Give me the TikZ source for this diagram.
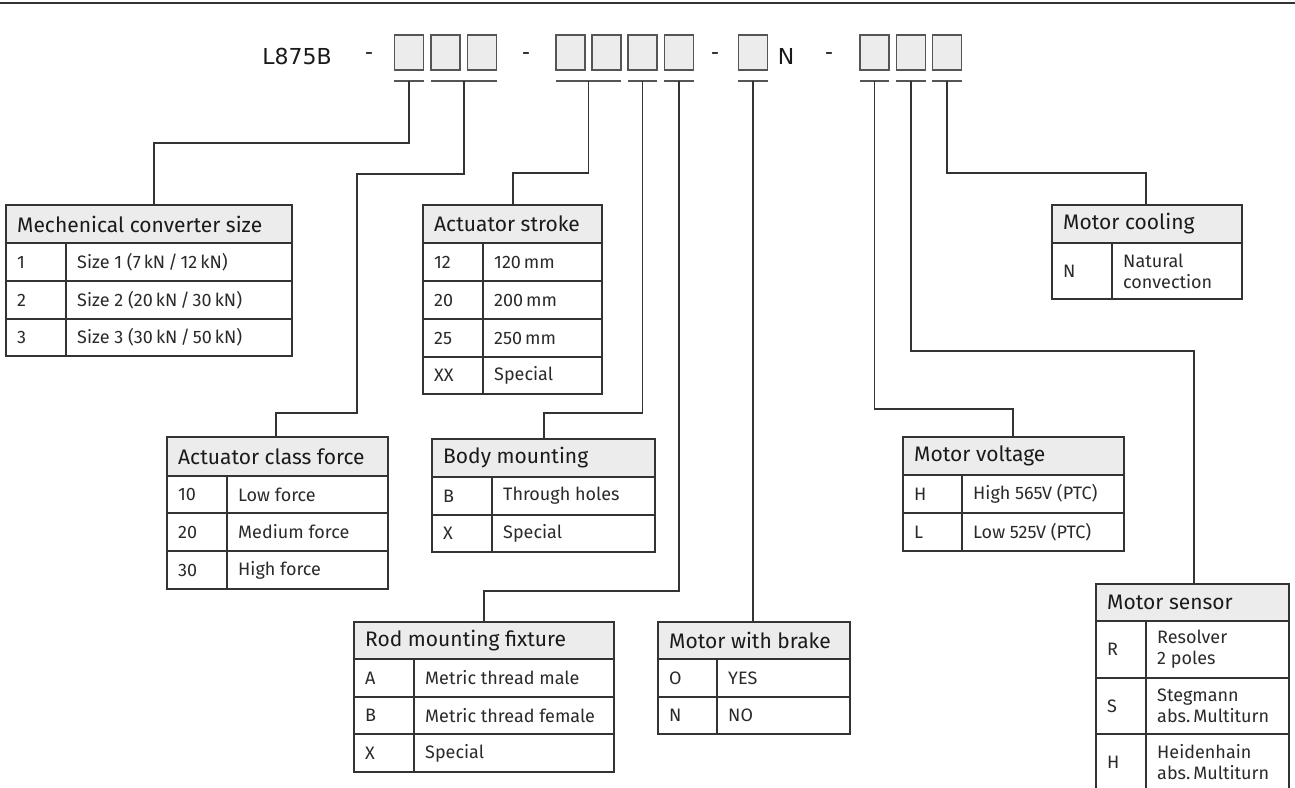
\documentclass[tikz,border=0pt]{standalone}
\usepackage{fontspec}
\setmainfont{Fira Sans}
\newfontfamily\codefont{DejaVu Sans}
\newfontfamily\lightfont{Fira Sans}
\definecolor{linec}{HTML}{333333}
\definecolor{fillc}{HTML}{ECECEC}
\definecolor{barc}{HTML}{555555}
\definecolor{textc}{HTML}{1A1A1A}
\definecolor{bodyc}{HTML}{2A2A2A}
\tikzset{
  conn/.style={draw=linec, line width=1.3pt},
  cellbox/.style={draw=linec, line width=1.3pt, anchor=north west, inner sep=0pt, outer sep=0pt},
  hdrbox/.style={cellbox, fill=fillc},
  hdrtxt/.style={anchor=west, inner sep=0pt, text=textc, font=\fontsize{21}{24}\selectfont},
  celltxt/.style={anchor=west, inner sep=0pt, text=bodyc, align=left, font=\lightfont\fontsize{18}{21}\selectfont},
  codetxt/.style={inner sep=0pt, text=textc, font=\codefont\fontsize{22}{24}\selectfont},
  codebox/.style={draw=barc, line width=1.2pt, fill=fillc, minimum width=29pt, minimum height=35pt, inner sep=0pt},
  barnode/.style={fill=barc, minimum height=2.5pt, inner sep=0pt, outer sep=0pt},
}
% #1 name, #2 left, #3 right, #4 top, #5 bottom, #6 text
\newcommand\tabhead[6]{%
  \node[hdrbox, minimum width={#3-#2}, minimum height={#5-#4}] (#1) at (#2,#4) {};
  \node[hdrtxt] (#1t) at ([xshift=11pt]#1.west) {#6};
}
% #1 name, #2 left, #3 split, #4 right, #5 top, #6 bottom, #7 key, #8 value
\newcommand\tabrow[8]{%
  \node[cellbox, minimum width={#3-#2}, minimum height={#6-#5}] (#1k) at (#2,#5) {};
  \node[cellbox, minimum width={#4-#3}, minimum height={#6-#5}] (#1v) at (#3,#5) {};
  \node[celltxt] (#1kt) at ([xshift=11pt]#1k.west) {#7};
  \node[celltxt] (#1vt) at ([xshift=11pt]#1v.west) {#8};
}
\begin{document}
\begin{tikzpicture}[x=1pt, y=-1pt]
\useasboundingbox (0,0) rectangle (1295,787);
\node[fill=linec, minimum width=1295pt, minimum height=2pt, inner sep=0pt, anchor=north west] (topline) at (0,1.5) {};

% code line
\node[codetxt] (code) at (297,56) {L875B};
\node[codetxt] (d1) at (369,56) {-};
\node[codetxt] (d2) at (526,56) {-};
\node[codetxt] (d3) at (715,56) {-};
\node[codetxt] (nn) at (786,56) {N};
\node[codetxt] (d4) at (829,56) {-};
\foreach \n/\x in {k1/409,k2/445.5,k3/482,k4/570.5,k5/606.5,k6/642.5,k7/679,k8/753,k9/874.5,k10/911,k11/947}
  \node[codebox] (\n) at (\x,52.5) {};

% bars
\node[barnode, minimum width=30pt] (b1) at (409,81) {};
\node[barnode, minimum width=66pt] (b2) at (464,81) {};
\node[barnode, minimum width=65pt] (b3) at (588.5,81) {};
\node[barnode, minimum width=29pt] (b4) at (642.5,81) {};
\node[barnode, minimum width=30pt] (b5) at (679,81) {};
\node[barnode, minimum width=30pt] (b6) at (753,81) {};
\node[barnode, minimum width=29pt] (b7) at (874.5,81) {};
\node[barnode, minimum width=30pt] (b8) at (911,81) {};
\node[barnode, minimum width=30pt] (b9) at (947,81) {};

% table 1
\tabhead{tm}{6}{292}{205}{243}{Mechenical converter size}
\tabrow{m1}{6}{66}{292}{243}{281}{1}{Size 1 (7\,kN\,/\,12\,kN)}
\tabrow{m2}{6}{66}{292}{281}{319}{2}{Size 2 (20\,kN\,/\,30\,kN)}
\tabrow{m3}{6}{66}{292}{319}{356}{3}{Size 3 (30\,kN\,/\,50\,kN)}

% table 2
\tabhead{tf}{167}{388}{437}{476}{Actuator class force}
\tabrow{f1}{167}{227}{388}{476}{513}{10}{Low force}
\tabrow{f2}{167}{227}{388}{513}{551}{20}{Medium force}
\tabrow{f3}{167}{227}{388}{551}{589}{30}{High force}

% table 3
\tabhead{ts}{423}{602}{205}{243}{Actuator stroke}
\tabrow{s1}{423}{483}{602}{243}{281}{12}{120\,mm}
\tabrow{s2}{423}{483}{602}{281}{319}{20}{200\,mm}
\tabrow{s3}{423}{483}{602}{319}{357}{25}{250\,mm}
\tabrow{s4}{423}{483}{602}{357}{394}{XX}{Special}

% table 4
\tabhead{tb}{432}{655}{439}{477}{Body mounting}
\tabrow{bm1}{432}{492}{655}{477}{515}{B}{Through holes}
\tabrow{bm2}{432}{492}{655}{515}{552}{X}{Special}

% table 5
\tabhead{tr}{354}{614}{622}{659}{Rod mounting fixture}
\tabrow{r1}{354}{414}{614}{659}{697}{A}{Metric thread male}
\tabrow{r2}{354}{414}{614}{697}{734}{B}{Metric thread female}
\tabrow{r3}{354}{414}{614}{734}{772}{X}{Special}

% table 6
\tabhead{tw}{658}{850}{622}{659}{Motor with brake}
\tabrow{w1}{658}{717}{850}{659}{697}{O}{YES}
\tabrow{w2}{658}{717}{850}{697}{734}{N}{NO}

% table 7
\tabhead{tv}{903}{1124}{437}{475}{Motor voltage}
\tabrow{v1}{903}{962}{1124}{475}{513}{H}{High 565V (PTC)}
\tabrow{v2}{903}{962}{1124}{513}{551}{L}{Low 525V (PTC)}

% table 8
\tabhead{tc}{1052}{1242}{205}{243}{Motor cooling}
\tabrow{c1}{1052}{1112}{1242}{243}{299}{N}{Natural\\convection}

% table 9
\tabhead{tn}{1096}{1289}{584}{621}{Motor sensor}
\tabrow{n1}{1096}{1146}{1289}{621}{678}{R}{Resolver\\2 poles}
\tabrow{n2}{1096}{1146}{1289}{678}{734}{S}{Stegmann\\abs.\,Multiturn}
\tabrow{n3}{1096}{1146}{1289}{734}{791}{H}{Heidenhain\\abs.\,Multiturn}

% connector ends on table tops
\coordinate (e1) at (154,205);
\coordinate (j2) at (357,413);
\coordinate (e2) at (276,437);
\coordinate (e3) at (513,205);
\coordinate (e4) at (544,439);
\coordinate (e5) at (484,622);
\coordinate (e6) at (753,622);
\coordinate (e7) at (1013,437);
\coordinate (e8) at (1194,584);
\coordinate (e9) at (1146,205);

\draw[conn] (b1.center) -- ++(0,62) -| (e1);
\draw[conn] (b2.center) -- ++(0,93) -| (j2) -| (e2);
\draw[conn] (b3.center) -- ++(0,92) -| (e3);
\draw[conn] (b4.center) -- ++(0,332) -| (e4);
\draw[conn] (b5.center) -- ++(0,510) -| (e5);
\draw[conn] (b6.center) -- (e6);
\draw[conn] (b7.center) -- ++(0,328) -| (e7);
\draw[conn] (b8.center) -- ++(0,270) -| (e8);
\draw[conn] (b9.center) -- ++(0,92) -| (e9);
\end{tikzpicture}
\end{document}
